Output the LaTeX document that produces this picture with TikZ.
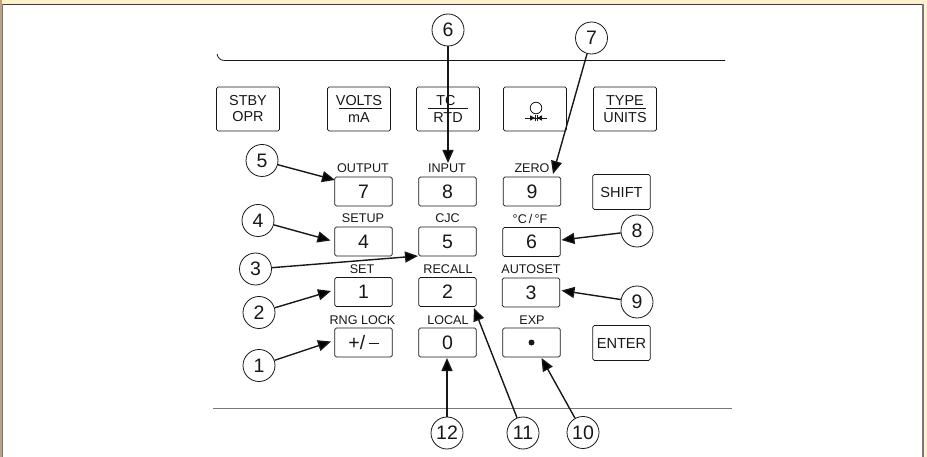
\documentclass[tikz,border=0pt]{standalone}
\usepackage{fontspec}
\setmainfont{Liberation Sans}
\usetikzlibrary{arrows.meta}
\definecolor{cream}{HTML}{FDF0CF}
\definecolor{ink}{HTML}{1A1718}
\definecolor{rulegrey}{HTML}{77777A}
\definecolor{tan}{HTML}{B9A584}
\tikzset{
  x=1pt,y=-1pt,
  key/.style={draw=ink,line width=0.8pt,rounded corners=1.6pt,inner sep=0pt,anchor=center,align=center,text=ink},
  numkey/.style={key,minimum width=57.5pt,minimum height=29pt,font=\fontsize{19.5}{20}\selectfont},
  topkey/.style={key,minimum width=63pt,minimum height=44pt},
  sidekey/.style={key,minimum width=57.5pt,minimum height=35pt,font=\fontsize{14.6}{15}\selectfont},
  lab/.style={inner sep=0pt,anchor=center,font=\fontsize{12.6}{13}\selectfont,text=ink},
  toplab/.style={lab,font=\fontsize{14.4}{15}\selectfont},
  callout/.style={draw=ink,circle,line width=0.8pt,fill=white,minimum size=32pt,inner sep=0pt,font=\fontsize{19.5}{20}\selectfont,text=ink},
  lead/.style={draw=ink,line width=1.4pt,-{Triangle[length=13pt,width=11pt]}},
}
\begin{document}
\begin{tikzpicture}
\useasboundingbox (0,0) rectangle (927,457);
\fill[cream] (0,0) rectangle (927,457);
\fill[tan] (0,0) rectangle (2,457);
\fill[white] (3,5) rectangle (923,457);
\draw[ink!85,line width=1pt] (3,4.5) -- (923,4.5);
\draw[rulegrey,line width=1.2pt] (923,4.5) -- (923,457);
\draw[rulegrey,line width=1.2pt] (2.6,4.5) -- (2.6,457);
% panel rules
\draw[ink,line width=0.8pt] (217,54) .. controls (218,58) and (220,60.5) .. (225,60.5) -- (725,60.5);
\draw[rulegrey,line width=1.1pt] (213,408.5) -- (732,408.5);
% top keys
\node[topkey] (stby) at (248,109) {};
\node[toplab] (stbyA) at (248,100.5) {STBY};
\node[toplab] (stbyB) at (248,117) {OPR};
\node[topkey] (volts) at (359,109) {};
\node[toplab] (voltsA) at (359,100.5) {VOLTS};
\node[toplab] (voltsB) at (359,118) {mA};
\draw[ink,line width=0.7pt] (339,108.5) -- (382,108.5);
\node[topkey] (tc) at (448,109) {};
\node[toplab] (tcA) at (446,100.5) {TC};
\node[toplab] (tcB) at (448,118) {RTD};
\draw[ink,line width=0.7pt] (428,108.5) -- (468,108.5);
\node[topkey] (ohm) at (535,109) {};
\draw[ink,line width=0.8pt] (536,108) circle (5.8);
\draw[ink,line width=0.7pt] (525,118) -- (547,118);
\fill[ink] (530,115.3) -- (535,118) -- (530,120.7) -- cycle;
\fill[ink] (542,115.3) -- (537,118) -- (542,120.7) -- cycle;
\draw[ink,line width=0.7pt] (535,115) -- (535,121) (537,115) -- (537,121);
\node[topkey] (type) at (625,109) {};
\node[toplab] (typeA) at (625,100.5) {TYPE};
\node[toplab] (typeB) at (625,118) {UNITS};
\draw[ink,line width=0.7pt] (606,108.5) -- (646,108.5);
% number keys
\node[numkey] (k7) at (363.5,191.5) {7};
\node[numkey] (k8) at (447.5,191.5) {8};
\node[numkey] (k9) at (532,191.5) {9};
\node[numkey] (k4) at (363.5,241.5) {4};
\node[numkey] (k5) at (447.5,241.5) {5};
\node[numkey] (k6) at (531.5,242) {6};
\node[numkey] (k1) at (363.5,292) {1};
\node[numkey] (k2) at (447.5,292) {2};
\node[numkey] (k3) at (531,292.5) {3};
\node[numkey] (kpm) at (363.5,342.5) {+/\,\rule[5pt]{10pt}{1.5pt}};
\node[numkey] (k0) at (447.5,342.5) {0};
\node[numkey] (kdot) at (531.5,342.5) {\tikz[baseline=-3pt]\fill[ink] (0,0) circle (3pt);};
\node[sidekey] (shift) at (621.5,192) {SHIFT};
\node[sidekey] (enter) at (621.5,343) {ENTER};
% labels
\node[lab] (lOut) at (363,168.5) {OUTPUT};
\node[lab] (lInp) at (447,168.5) {INPUT};
\node[lab] (lZer) at (532,168.5) {ZERO};
\node[lab] (lSet) at (363,218.5) {SETUP};
\node[lab] (lCjc) at (447.5,218.5) {CJC};
\node[lab] (lCf) at (530,218.5) {°C\,/\,°F};
\node[lab] (lSe) at (362,269) {SET};
\node[lab] (lRec) at (448,269.5) {RECALL};
\node[lab] (lAut) at (531,269.5) {AUTOSET};
\node[lab] (lRng) at (362.5,320) {RNG LOCK};
\node[lab] (lLoc) at (448,320) {LOCAL};
\node[lab] (lExp) at (532,320) {EXP};
% callouts
\node[callout] (c1) at (259,365.5) {1};
\node[callout] (c2) at (259,312.5) {2};
\node[callout] (c3) at (255.5,269) {3};
\node[callout] (c4) at (258,220.5) {4};
\node[callout] (c5) at (262,160.5) {5};
\node[callout] (c6) at (448,30) {6};
\node[callout] (c7) at (591.5,38) {7};
\node[callout] (c8) at (637,231) {8};
\node[callout] (c9) at (637,302) {9};
\node[callout] (c10) at (583,432.5) {10};
\node[callout] (c11) at (523,433) {11};
\node[callout] (c12) at (447,433) {12};
\coordinate (t1) at (331,341.5);
\coordinate (t2) at (331,291);
\coordinate (t3) at (418,256);
\coordinate (t4) at (330.5,240.5);
\coordinate (t5) at (335,180);
\coordinate (t6) at (448,163);
\coordinate (t7) at (553,174);
\coordinate (t8) at (561.5,240);
\coordinate (t9) at (561.5,290.5);
\coordinate (t10) at (541.5,358);
\coordinate (t11) at (474,308);
\coordinate (t12) at (447,358);
\foreach \c/\t in {c1/t1,c2/t2,c3/t3,c4/t4,c5/t5,c6/t6,c7/t7,c8/t8,c9/t9,c10/t10,c11/t11,c12/t12}
  \draw[lead] (\c) -- (\t);
\end{tikzpicture}
\end{document}
